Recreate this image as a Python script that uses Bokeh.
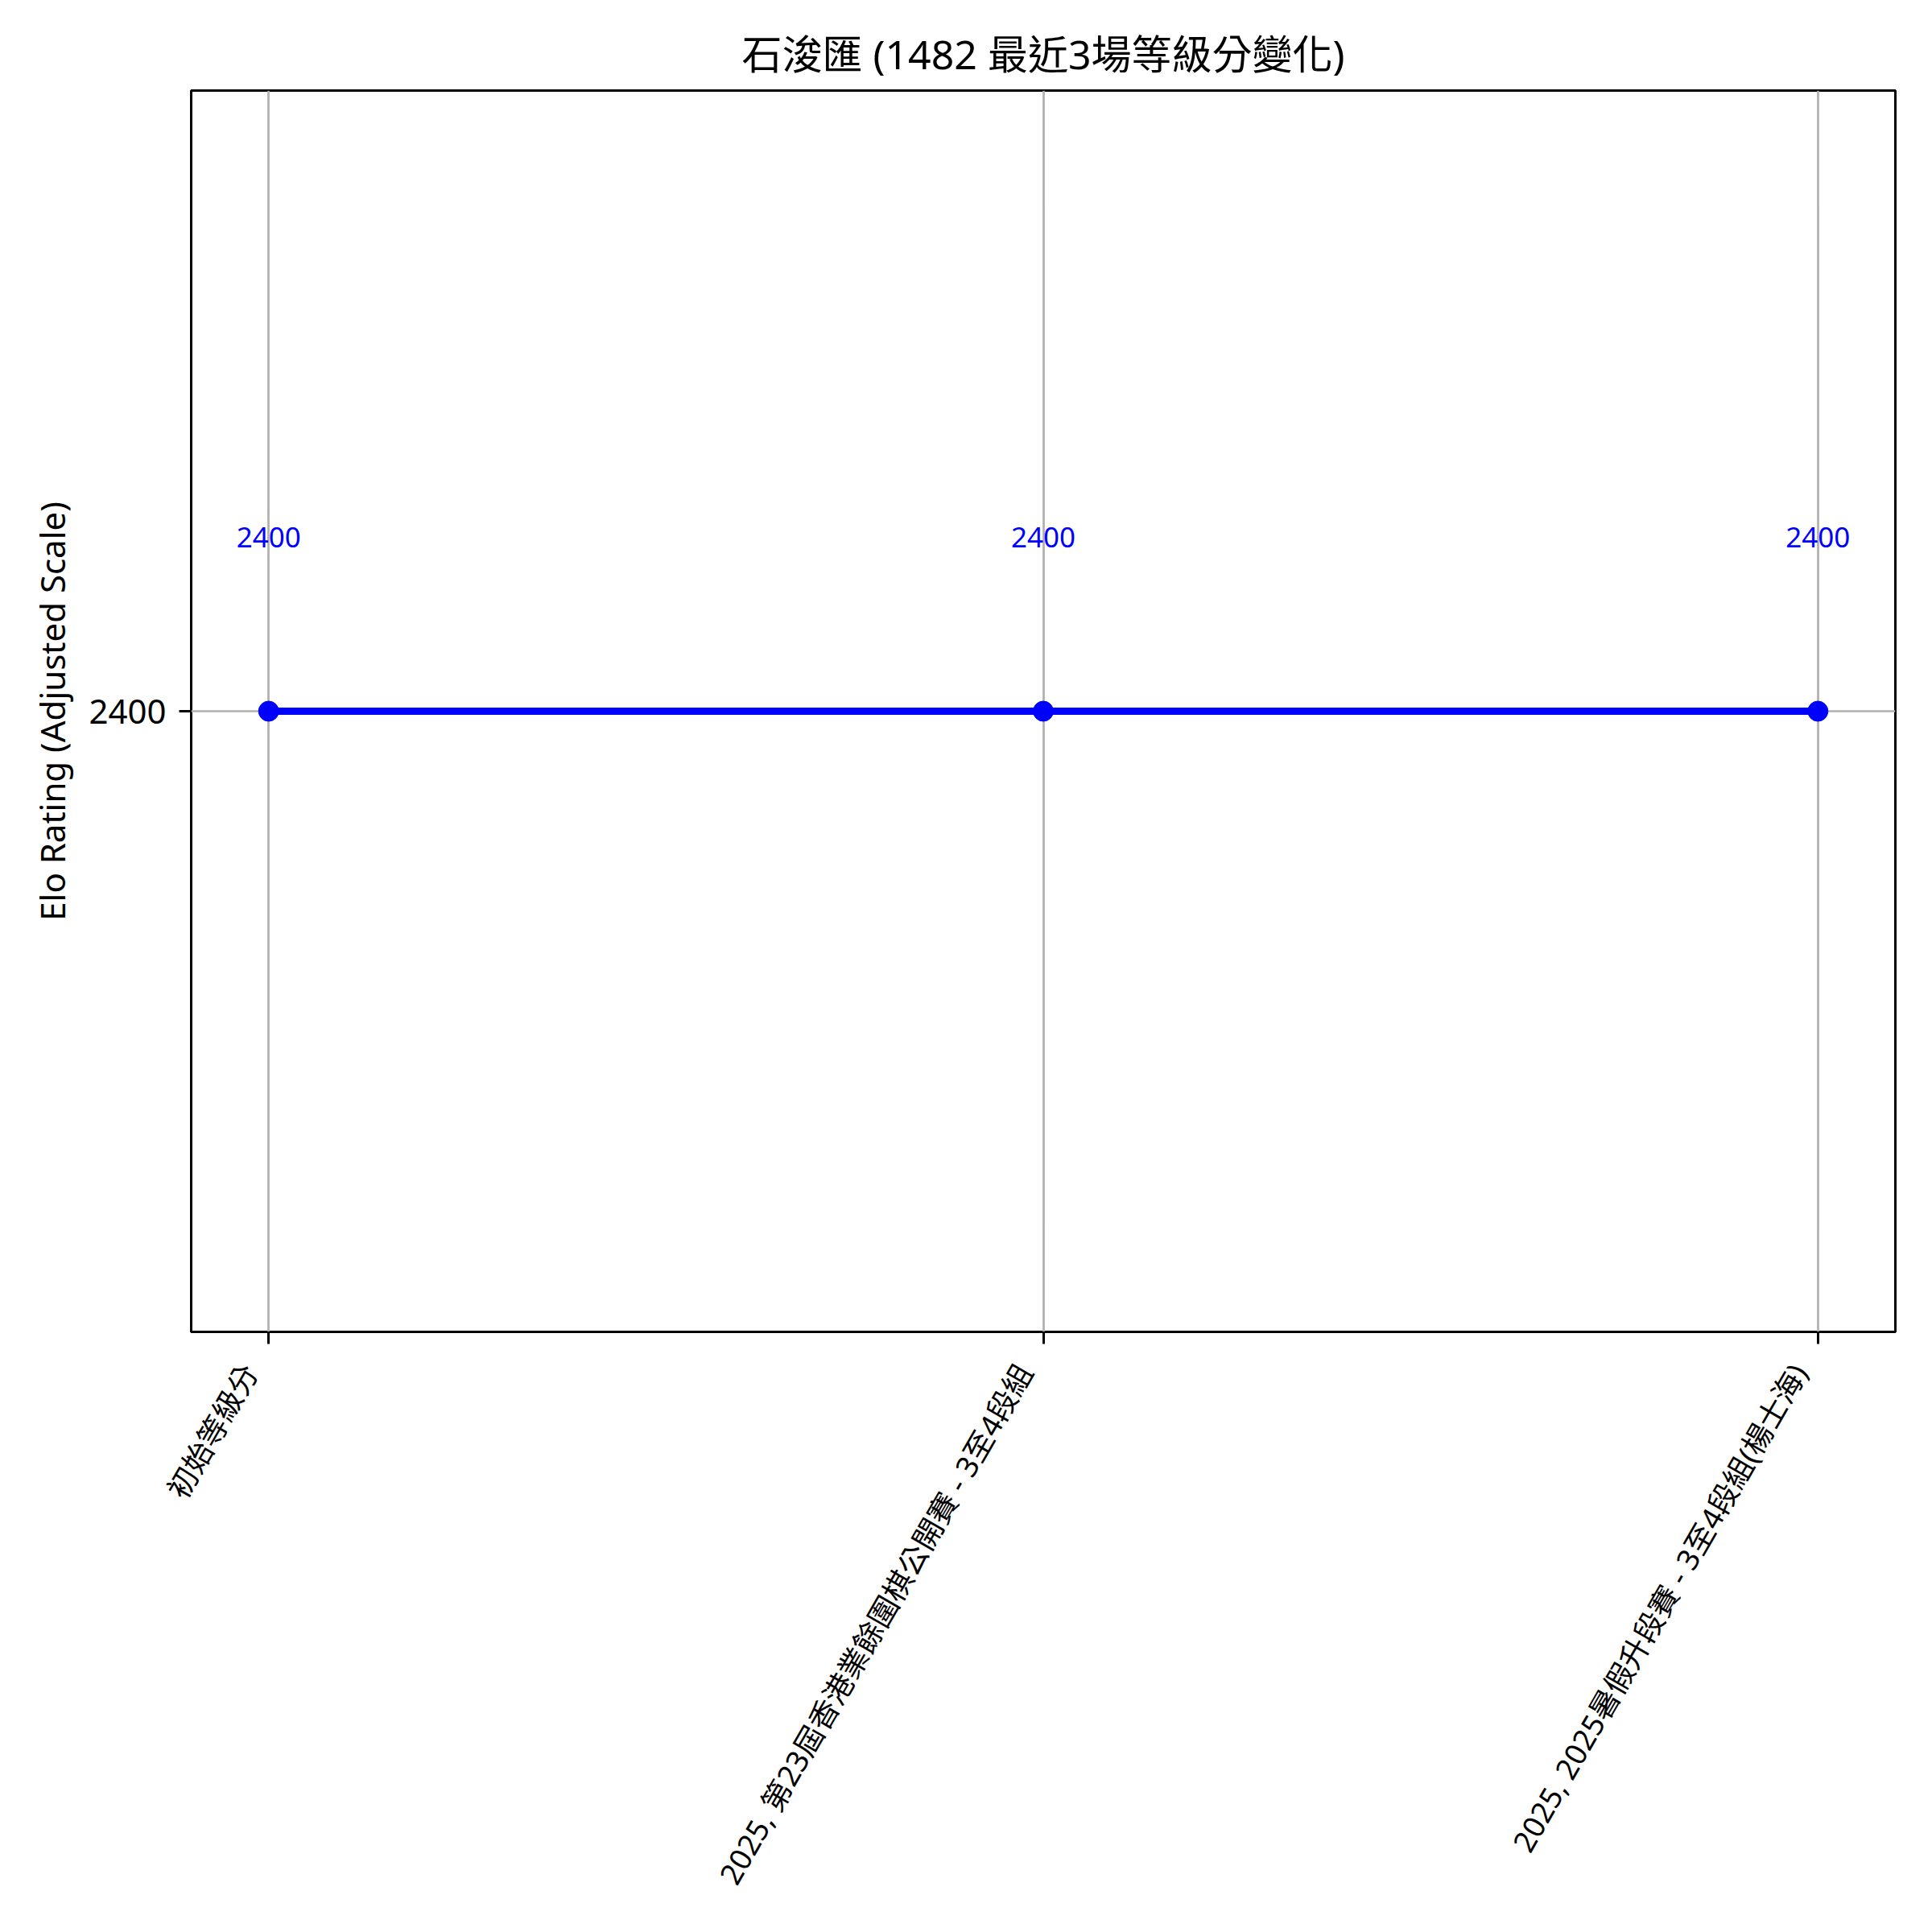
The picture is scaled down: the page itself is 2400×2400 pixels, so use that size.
from bokeh.plotting import figure
from bokeh.models import Range1d, FixedTicker, LinearAxis, CustomJSTickFormatter
from bokeh.core.properties import value
from bokeh.embed import file_html
from bokeh.resources import INLINE

# ---- data ----
title_text = "石浚匯 (1482 最近3場等級分變化)"
events = [
    "初始等級分",
    "2025, 第23屆香港業餘圍棋公開賽 - 3至4段組",
    "2025, 2025暑假升段賽 - 3至4段組(楊士海)",
]
ratings = [2400, 2400, 2400]
y_ticks = [2400]
y_label = "Elo Rating (Adjusted Scale)"

xs = list(range(len(events)))
FONT = "'Noto Sans', 'Noto Sans CJK TC'"

W, H = 2384, 2384
FRAME_W = 2117
x_lo, x_hi = -0.1, len(events) - 1 + 0.1
p = figure(width=W, height=H, output_backend="svg", toolbar_location=None,
           x_range=Range1d(x_lo, x_hi),
           y_range=Range1d(2350, 2450),
           min_border_left=237, min_border_right=30,
           min_border_top=112, min_border_bottom=730)

p.title.text = title_text
p.title.align = "center"
p.title.text_font = FONT
p.title.text_font_size = "50px"
p.title.text_font_style = "normal"
p.title.text_color = "black"
p.title.standoff = 23

p.outline_line_color = "black"
p.outline_line_width = 3
p.background_fill_color = "white"
p.border_fill_color = "white"

# x axis: tick marks only (as minor ticks, so no labels)
xa = p.xaxis[0]
xa.ticker = FixedTicker(ticks=[], minor_ticks=xs)
xa.axis_line_color = None
xa.major_tick_line_color = None
xa.minor_tick_line_color = "black"
xa.minor_tick_line_width = 3
xa.minor_tick_out = 15
xa.minor_tick_in = 0

# second x axis carrying the rotated labels, anchored matplotlib-style
# (label block ends slightly left of the tick)
shift = 24 * (x_hi - x_lo) / FRAME_W
lab_axis = LinearAxis(
    ticker=FixedTicker(ticks=[x - shift for x in xs]),
    formatter=CustomJSTickFormatter(args=dict(labels=events),
                                    code="return labels[Math.round(tick + 0.3)];"),
    axis_line_color=None, major_tick_line_color=None, minor_tick_line_color=None,
    major_tick_out=0, major_tick_in=0,
    major_label_orientation=1.0472, major_label_standoff=28,
    major_label_text_font=FONT, major_label_text_font_size="37px",
    major_label_text_color="black")
p.add_layout(lab_axis, "below")

ya = p.yaxis[0]
ya.ticker = FixedTicker(ticks=y_ticks)
ya.axis_line_color = None
ya.major_tick_line_color = "black"
ya.major_tick_line_width = 3
ya.major_tick_out = 15
ya.major_tick_in = 0
ya.minor_tick_line_color = None
ya.major_label_text_font = FONT
ya.major_label_text_color = "black"
ya.major_label_standoff = 16
ya.major_label_text_font_size = "42px"
ya.axis_label = y_label
ya.axis_label_text_font = FONT
ya.axis_label_text_font_size = "42px"
ya.axis_label_text_font_style = "normal"
ya.axis_label_text_color = "black"
ya.axis_label_standoff = 14

# grid
p.xgrid[0].ticker = FixedTicker(ticks=xs)
p.xgrid.grid_line_color = "#b0b0b0"
p.ygrid.grid_line_color = "#b0b0b0"
p.xgrid.grid_line_width = 2.7
p.ygrid.grid_line_width = 2.7

# data
p.line(xs, ratings, line_color="blue", line_width=9)
p.scatter(xs, ratings, size=25, fill_color="blue", line_color="blue")
p.text(xs, ratings, text=[str(r) for r in ratings], text_color="blue",
       text_font=value(FONT), text_font_size="35px",
       text_align="center", text_baseline="middle", y_offset=-216)

open("out.html", "w").write(file_html(p, INLINE))
